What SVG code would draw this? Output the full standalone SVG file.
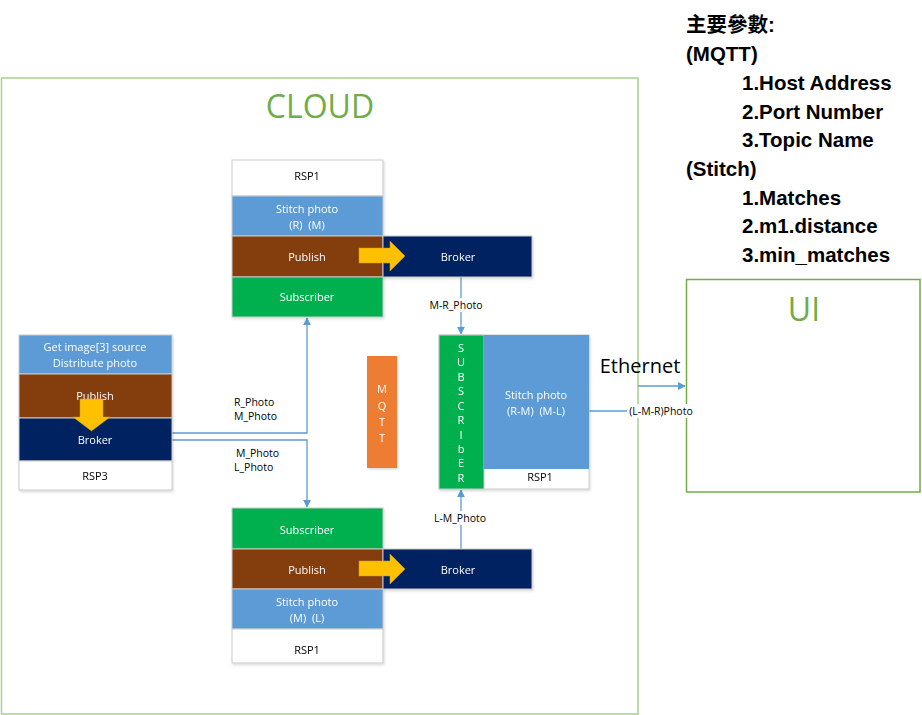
<svg xmlns="http://www.w3.org/2000/svg" width="922" height="715" viewBox="0 0 922 715">
<style>
.t{font-family:"Open Sans","Noto Sans","Liberation Sans",sans-serif;font-size:11px;text-anchor:middle;dominant-baseline:central}
.w{fill:#fff}
.k{fill:#000}
.box{stroke:#C9C9C9;stroke-width:1}
.blue{fill:#5B9BD5}
.brown{fill:#843C0C}
.navy{fill:#002060}
.green{fill:#00B050}
.white{fill:#fff}
.line{fill:none;stroke:#5B9BD5;stroke-width:1.3}
.lbl{font-family:"Open Sans","Noto Sans","Liberation Sans",sans-serif;font-size:10.5px;fill:#000}
.yarrow{fill:#FFC000;stroke:#C9A227;stroke-width:0.5}
.p{font-family:"Liberation Sans","Noto Sans CJK TC",sans-serif;font-size:20.5px;font-weight:bold;fill:#000}
</style>
<defs>
<marker id="ah" viewBox="0 0 10 10" refX="9" refY="5" markerWidth="8" markerHeight="8" markerUnits="userSpaceOnUse" orient="auto">
<path d="M0,0 L10,5 L0,10 z" fill="#5B9BD5"/>
</marker>
<filter id="sh" x="-10%" y="-10%" width="130%" height="130%">
<feDropShadow dx="1" dy="1.5" stdDeviation="1" flood-color="#000" flood-opacity="0.15"/>
</filter>
</defs>

<g id="cloud">
<rect x="1.5" y="78" width="636.5" height="636" fill="none" stroke="#A9D18E" stroke-width="1.5"/>
<text x="320" y="118" font-family="Open Sans,Noto Sans,sans-serif" font-size="32" fill="#70AD47" text-anchor="middle">CLOUD</text>
</g>

<g id="ui">
<rect x="686.5" y="279.5" width="233.5" height="212.5" fill="none" stroke="#70AD47" stroke-width="1.5"/>
<text x="804" y="321" font-family="Open Sans,Noto Sans,sans-serif" font-size="32" fill="#70AD47" text-anchor="middle">UI</text>
</g>

<g id="params">
<text class="p" x="686" y="32">主要參數:</text>
<text class="p" x="686" y="61">(MQTT)</text>
<text class="p" x="742" y="90">1.Host Address</text>
<text class="p" x="742" y="119">2.Port Number</text>
<text class="p" x="742" y="147">3.Topic Name</text>
<text class="p" x="686" y="176">(Stitch)</text>
<text class="p" x="742" y="205">1.Matches</text>
<text class="p" x="742" y="233">2.m1.distance</text>
<text class="p" x="742" y="262">3.min_matches</text>
</g>

<g id="connectors">
<polyline class="line" points="172,433 307,433 307,318" marker-end="url(#ah)"/>
<polyline class="line" points="172,440 307,440 307,507" marker-end="url(#ah)"/>
<line class="line" x1="461" y1="277" x2="461" y2="334" marker-end="url(#ah)"/>
<line class="line" x1="461" y1="549" x2="461" y2="490" marker-end="url(#ah)"/>
<line class="line" x1="589" y1="411" x2="630" y2="411"/>
<polyline class="line" points="638,386 685,386" marker-end="url(#ah)"/>
<rect x="423" y="298" width="67" height="14" fill="#fff"/>
<text class="lbl" x="456" y="305" text-anchor="middle" dominant-baseline="central">M-R_Photo</text>
<rect x="431" y="511" width="59" height="14" fill="#fff"/>
<text class="lbl" x="460" y="518" text-anchor="middle" dominant-baseline="central">L-M_Photo</text>
<text class="lbl" x="234" y="406">R_Photo</text>
<text class="lbl" x="234" y="420">M_Photo</text>
<text class="lbl" x="236" y="457">M_Photo</text>
<text class="lbl" x="234" y="471">L_Photo</text>
<text x="640" y="373" font-family="Open Sans,Noto Sans,sans-serif" font-size="20" fill="#000" text-anchor="middle">Ethernet</text>
<rect x="627" y="404" width="68" height="14" fill="#fff"/>
<text class="lbl" x="661" y="411" text-anchor="middle" dominant-baseline="central">(L-M-R)Photo</text>
</g>

<g id="rsp1-top" filter="url(#sh)">
<rect class="box white" x="232" y="160" width="151" height="36"/>
<text class="t k" x="307" y="175">RSP1</text>
<rect class="box blue" x="232" y="196" width="151" height="40"/>
<text class="t w" x="307" y="208">Stitch photo</text>
<text class="t w" x="307" y="224">(R)&#160; (M)</text>
<rect class="box brown" x="232" y="236" width="151" height="41"/>
<text class="t w" x="307" y="256">Publish</text>
<rect class="box green" x="232" y="277" width="151" height="40"/>
<text class="t w" x="307" y="296">Subscriber</text>
</g>
<g id="broker-top" filter="url(#sh)">
<rect class="box navy" x="383" y="236" width="149" height="41"/>
<text class="t w" x="458" y="256">Broker</text>
</g>
<path id="yarrow-top" class="yarrow" d="M359,248 L390,248 L390,241 L405,256 L390,271 L390,263 L359,263 z"/>

<g id="rsp3" filter="url(#sh)">
<rect class="box blue" x="19" y="335" width="153" height="39"/>
<text class="t w" x="95" y="346">Get image[3] source</text>
<text class="t w" x="95" y="362">Distribute photo</text>
<rect class="box brown" x="19" y="374" width="153" height="44"/>
<text class="t w" x="95" y="395">Publish</text>
<rect class="box navy" x="19" y="418" width="153" height="43"/>
<text class="t w" x="95" y="439">Broker</text>
<rect class="box white" x="19" y="461" width="153" height="29"/>
<text class="t k" x="95" y="475">RSP3</text>
</g>
<path id="yarrow-left" class="yarrow" d="M80,399 L103,399 L103,417 L110,417 L91.5,431 L73,417 L80,417 z"/>

<g id="mqtt" filter="url(#sh)">
<rect x="367" y="356" width="30" height="112" fill="#ED7D31"/>
<text class="t w" x="382" y="388">M</text>
<text class="t w" x="382" y="405">Q</text>
<text class="t w" x="382" y="421">T</text>
<text class="t w" x="382" y="437">T</text>
</g>

<g id="rsp1-mid" filter="url(#sh)">
<rect class="box white" x="439" y="335" width="150" height="154"/>
<rect class="box green" x="439" y="335" width="45" height="154"/>
<rect class="blue" x="484" y="335" width="105" height="134"/>
<text class="t w" x="536" y="394">Stitch photo</text>
<text class="t w" x="536" y="410">(R-M)&#160; (M-L)</text>
<text class="t k" x="540" y="476">RSP1</text>
<g class="t w">
<text x="461" y="347">S</text>
<text x="461" y="361">U</text>
<text x="461" y="376">B</text>
<text x="461" y="390">S</text>
<text x="461" y="405">C</text>
<text x="461" y="419">R</text>
<text x="461" y="434">I</text>
<text x="461" y="448">b</text>
<text x="461" y="462">E</text>
<text x="461" y="477">R</text>
</g>
</g>

<g id="rsp1-bottom" filter="url(#sh)">
<rect class="box green" x="232" y="508" width="151" height="41"/>
<text class="t w" x="307" y="529">Subscriber</text>
<rect class="box brown" x="232" y="549" width="151" height="40"/>
<text class="t w" x="307" y="569">Publish</text>
<rect class="box blue" x="232" y="589" width="151" height="40"/>
<text class="t w" x="307" y="601">Stitch photo</text>
<text class="t w" x="307" y="617">(M)&#160; (L)</text>
<rect class="box white" x="232" y="629" width="151" height="34"/>
<text class="t k" x="307" y="649">RSP1</text>
</g>
<g id="broker-bottom" filter="url(#sh)">
<rect class="box navy" x="383" y="549" width="149" height="40"/>
<text class="t w" x="458" y="569">Broker</text>
</g>
<path id="yarrow-bottom" class="yarrow" d="M359,561 L390,561 L390,554 L405,569 L390,584 L390,576 L359,576 z"/>
</svg>
